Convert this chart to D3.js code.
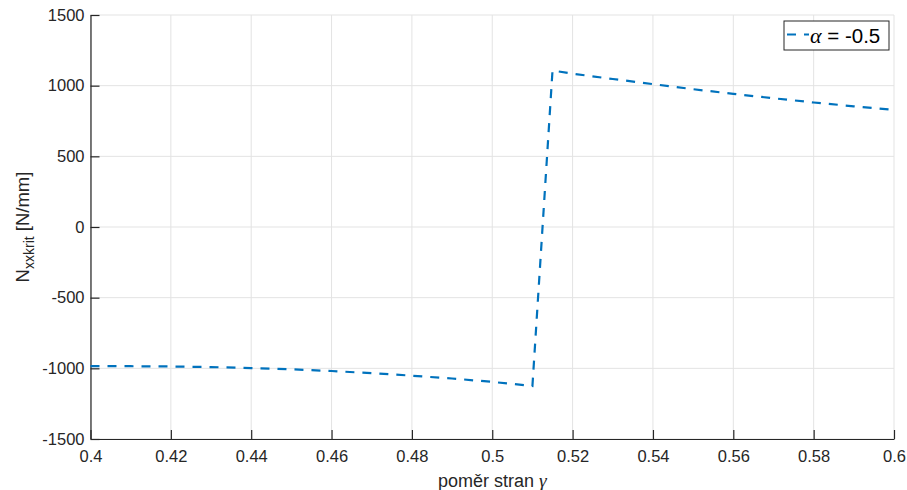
<!DOCTYPE html>
<html>
<head>
<meta charset="utf-8">
<script src="https://cdn.jsdelivr.net/npm/d3@7"></script>
<style>
  body { margin: 0; background: #fff; }
  text { font-family: "Liberation Sans", Arial, sans-serif; }
</style>
</head>
<body>
<svg id="canvas" width="907" height="490"></svg>
<script>
// pomer stran gamma vs. N_xxkrit, alpha = -0.5
let gammaVals = [0.40, 0.41, 0.42, 0.43, 0.44, 0.45, 0.46, 0.47, 0.48, 0.49, 0.50, 0.51,
                 0.515, 0.52, 0.53, 0.54, 0.55, 0.56, 0.57, 0.58, 0.59, 0.60]
let nxxVals = [-984, -985, -987, -991, -998, -1007, -1019, -1034, -1052, -1072, -1096, -1125,
               1107, 1085, 1047, 1011, 975, 942, 911, 881, 854, 829]
let xTicks = [0.4, 0.42, 0.44, 0.46, 0.48, 0.5, 0.52, 0.54, 0.56, 0.58, 0.6]
let yTicks = [-1500, -1000, -500, 0, 500, 1000, 1500]
let legendLabel = ' = -0.5'

let margin = { top: 15, right: 13, bottom: 51, left: 90.5 }
let width = 907 - margin.left - margin.right
let height = 490 - margin.top - margin.bottom
let axisColor = '#262626'
let lineColor = '#0072BD'

let canvas = d3.select('#canvas')
let g = canvas.append('g')
    .attr('transform', 'translate(' + margin.left + ',' + margin.top + ')')

let x = d3.scaleLinear().domain([0.4, 0.6]).range([0, width])
let y = d3.scaleLinear().domain([-1500, 1500]).range([height, 0])

// grid
g.append('g').selectAll('line')
    .data(xTicks)
    .enter()
    .append('line')
    .attr('x1', d => x(d)).attr('x2', d => x(d))
    .attr('y1', 0).attr('y2', height)
    .attr('stroke', '#e3e3e3').attr('stroke-width', 1)

g.append('g').selectAll('line')
    .data(yTicks)
    .enter()
    .append('line')
    .attr('x1', 0).attr('x2', width)
    .attr('y1', d => y(d)).attr('y2', d => y(d))
    .attr('stroke', '#e3e3e3').attr('stroke-width', 1)

// axes
let xAxis = d3.axisBottom(x).tickValues(xTicks).tickSizeInner(-9).tickSizeOuter(0)
    .tickPadding(11).tickFormat(d => String(+d.toFixed(2)))
let yAxis = d3.axisLeft(y).tickValues(yTicks).tickSizeInner(-9).tickSizeOuter(0)
    .tickPadding(6).tickFormat(d => String(d))

let gx = g.append('g')
    .attr('transform', 'translate(0,' + height + ')')
    .call(xAxis)
let gy = g.append('g').call(yAxis)

;[gx, gy].forEach(a => {
    a.select('.domain').attr('stroke', axisColor).attr('stroke-width', 1.2)
    a.selectAll('.tick line').attr('stroke', axisColor).attr('stroke-width', 1.2)
    a.selectAll('.tick text').attr('fill', axisColor).style('font-size', '16.5px')
})

// data line
let line = d3.line()
    .x((d, i) => x(gammaVals[i]))
    .y(d => y(d))

g.append('path')
    .datum(nxxVals)
    .attr('d', line)
    .attr('fill', 'none')
    .attr('stroke', lineColor)
    .attr('stroke-width', 2.2)
    .attr('stroke-dasharray', '9,8')

// axis labels
canvas.append('text')
    .attr('x', margin.left + width / 2)
    .attr('y', 487)
    .attr('text-anchor', 'middle')
    .attr('fill', axisColor)
    .style('font-size', '18px')
    .text('poměr stran ')
    .append('tspan')
    .style('font-family', '"Liberation Serif", serif')
    .style('font-style', 'italic')
    .style('font-size', '19.5px')
    .text('γ')

let ylab = canvas.append('text')
    .attr('transform', 'translate(29,' + (margin.top + height / 2) + ') rotate(-90)')
    .attr('text-anchor', 'middle')
    .attr('fill', axisColor)
    .style('font-size', '18.5px')
ylab.append('tspan').text('N')
ylab.append('tspan').attr('dy', 5).style('font-size', '14px').text('xxkrit')
ylab.append('tspan').attr('dy', -5).text(' [N/mm]')

// legend
let legend = canvas.append('g').attr('transform', 'translate(784,21)')
legend.append('rect')
    .attr('width', 105).attr('height', 29)
    .attr('fill', '#fff')
    .attr('stroke', axisColor).attr('stroke-width', 1)
legend.append('line')
    .attr('x1', 3).attr('x2', 25)
    .attr('y1', 13.5).attr('y2', 13.5)
    .attr('stroke', lineColor).attr('stroke-width', 2.2)
    .attr('stroke-dasharray', '9,8')
let lt = legend.append('text')
    .attr('x', 26).attr('y', 22)
    .attr('fill', '#000')
    .style('font-size', '20.5px')
lt.append('tspan')
    .style('font-family', '"Liberation Serif", serif')
    .style('font-style', 'italic')
    .style('font-size', '22px')
    .text('α')
lt.append('tspan').text(legendLabel)
</script>
</body>
</html>
